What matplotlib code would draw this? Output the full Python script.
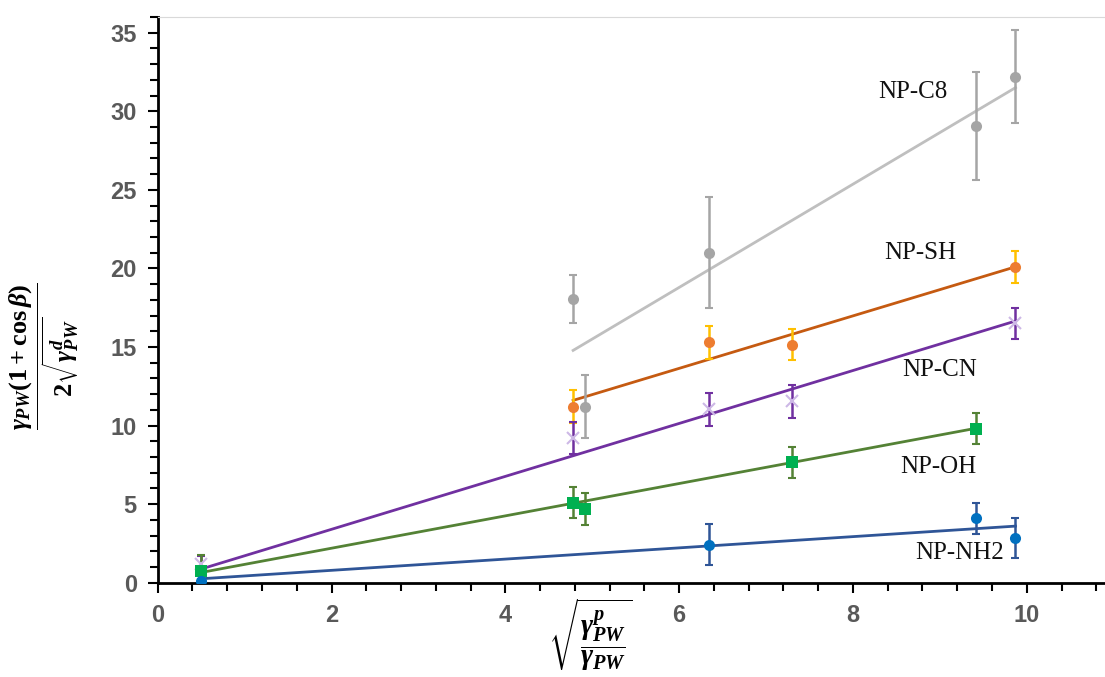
import matplotlib.pyplot as plt
import numpy as np

plt.rcParams['mathtext.fontset'] = 'custom'
plt.rcParams['mathtext.rm'] = 'Liberation Serif:bold'
plt.rcParams['mathtext.it'] = 'Liberation Serif:bold:italic'
plt.rcParams['mathtext.bf'] = 'Liberation Serif:bold'

# datos
c8_x = [4.78, 4.92, 6.34, 9.42, 9.87]
c8_y = [18.05, 11.2, 21.0, 29.05, 32.2]
c8_err = [1.5, 2.0, 3.55, 3.45, 2.95]
c8_fit_x = [4.78, 9.87]
c8_fit_y = [14.78, 31.5]

sh_x = [4.78, 6.34, 7.30, 9.87]
sh_y = [11.2, 15.3, 15.15, 20.1]
sh_err = [1.05, 1.05, 1.0, 1.0]
sh_fit_x = [4.78, 9.87]
sh_fit_y = [11.6, 20.1]

cn_x = [0.5, 4.78, 6.34, 7.30, 9.87]
cn_y = [1.2, 9.2, 11.05, 11.55, 16.5]
cn_err = [0.5, 1.0, 1.05, 1.05, 1.0]
cn_fit_x = [0.5, 9.87]
cn_fit_y = [0.87, 16.65]

oh_x = [0.5, 4.78, 4.92, 7.30, 9.42]
oh_y = [0.75, 5.1, 4.7, 7.65, 9.8]
oh_err = [1.0, 1.0, 1.0, 1.0, 1.0]
oh_fit_x = [0.5, 9.42]
oh_fit_y = [0.65, 9.83]

nh2_x = [0.5, 6.34, 9.42, 9.87]
nh2_y = [0.08, 2.43, 4.1, 2.85]
nh2_err = [0.15, 1.33, 1.0, 1.25]
nh2_fit_x = [0.5, 9.87]
nh2_fit_y = [0.25, 3.6]

labels = ["NP-C8", "NP-SH", "NP-CN", "NP-OH", "NP-NH2"]
label_x = [8.69, 8.78, 9.0, 8.98, 9.23]
label_y = [31.2, 20.95, 13.56, 7.38, 1.89]

fig = plt.figure(figsize=(11.05, 6.77), dpi=100)
ax = fig.add_axes([0.1427, 0.1393, 0.8573, 0.8357])

series = [
    (c8_x, c8_y, c8_err, c8_fit_x, c8_fit_y, 'o', '#A5A5A5', '#A5A5A5', '#BFBFBF'),
    (sh_x, sh_y, sh_err, sh_fit_x, sh_fit_y, 'o', '#ED7D31', '#FFC000', '#C55A11'),
    (cn_x, cn_y, cn_err, cn_fit_x, cn_fit_y, 'x', '#CDB8E6', '#7030A0', '#7030A0'),
    (oh_x, oh_y, oh_err, oh_fit_x, oh_fit_y, 's', '#00B050', '#548235', '#548235'),
    (nh2_x, nh2_y, nh2_err, nh2_fit_x, nh2_fit_y, 'o', '#0070C0', '#2F5597', '#2F5597'),
]

for xs, ys, es, fx, fy, mk, mcol, ecol, lcol in series:
    ax.plot(fx, fy, '-', color=lcol, linewidth=2, zorder=2)
    ax.errorbar(xs, ys, yerr=es, fmt='none', ecolor=ecol, elinewidth=1.8,
                capsize=3, capthick=1.5, zorder=3)
    ax.plot(xs, ys, mk, color=mcol, markersize=8 if mk != 'x' else 9,
            markeredgewidth=1.5 if mk == 'x' else 0, linestyle='none', zorder=4)

for t, lx, ly in zip(labels, label_x, label_y):
    ax.text(lx, ly, t, ha='center', va='center', fontsize=18,
            family='Liberation Serif', color='#111111')

ax.set_xlim(0, 10.9)
ax.set_ylim(0, 36)
ax.set_xticks(np.arange(0, 11, 2))
ax.set_xticks(np.arange(0, 10.9, 0.4), minor=True)
ax.set_yticks(np.arange(0, 36, 5))
ax.set_yticks(np.arange(0, 37, 1), minor=True)

ax.spines['right'].set_visible(False)
ax.spines['top'].set_color('#D9D9D9')
ax.spines['left'].set_linewidth(2)
ax.spines['bottom'].set_linewidth(2)
ax.tick_params(which='both', direction='out', width=1.5, color='black')
ax.tick_params(which='major', length=7, pad=8)
ax.tick_params(which='minor', length=6)
for lab in ax.get_xticklabels() + ax.get_yticklabels():
    lab.set_fontsize(17)
    lab.set_fontweight('bold')
    lab.set_color('#595959')
    lab.set_family('Liberation Sans')

fig.text(0.534, 0.062,
         r'$\sqrt{\dfrac{\gamma_{PW}^{p}}{\gamma_{PW}}}$',
         ha='center', va='center', fontsize=21)
fig.text(0.040, 0.474,
         r'$\dfrac{\gamma_{PW}(1+\mathrm{cos}\,\beta)}{2\sqrt{\gamma_{PW}^{d}}}$',
         ha='center', va='center', rotation=90, fontsize=19)

plt.savefig("out.png", dpi=100)
